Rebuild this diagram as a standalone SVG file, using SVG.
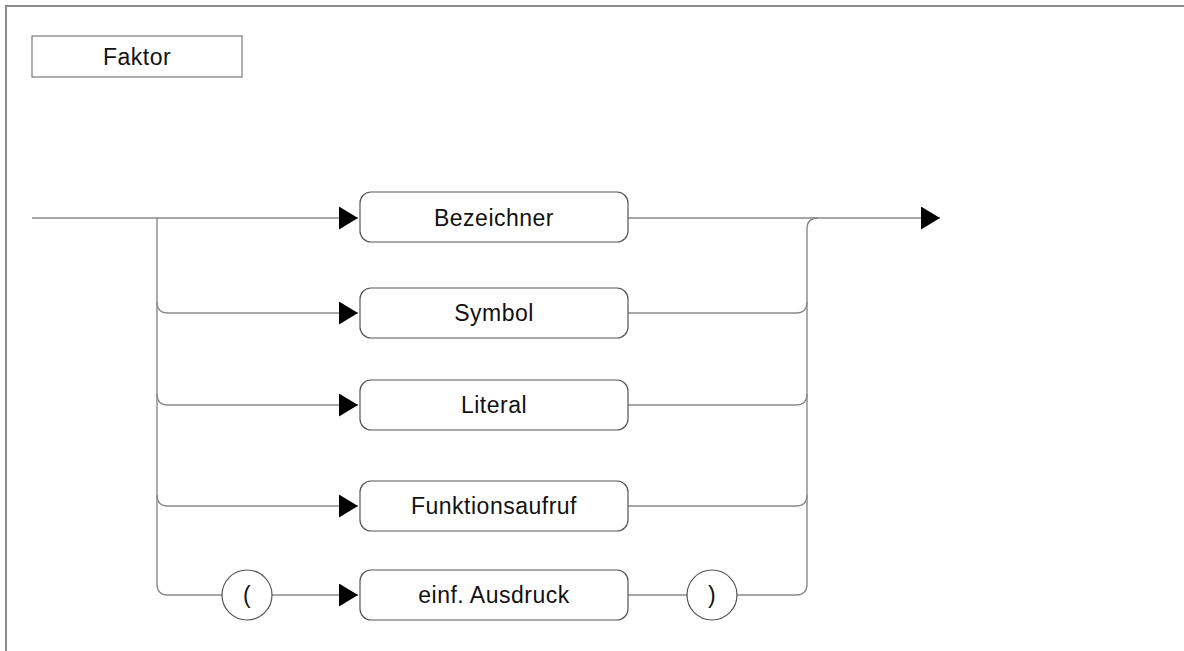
<svg xmlns="http://www.w3.org/2000/svg" width="1184" height="651" viewBox="0 0 1184 651">
  <style>
    .frame { fill: none; stroke: #8c8c8c; stroke-width: 2; }
    .title { fill: #ffffff; stroke: #7a7a7a; stroke-width: 1.2; }
    .box { fill: #ffffff; stroke: #555555; stroke-width: 1.2; }
    .term { fill: #ffffff; stroke: #555555; stroke-width: 1.2; }
    .wire { fill: none; stroke: #8a8a8a; stroke-width: 1.4; }
    .lbl { font-family: "Liberation Sans", Arial, sans-serif; font-size: 23px; letter-spacing: 0.5px; fill: #111111; text-anchor: middle; dominant-baseline: central; }
  </style>
  <defs>
    <marker id="arrow" viewBox="0 0 19 23" refX="19" refY="11.5" markerWidth="19" markerHeight="23" markerUnits="userSpaceOnUse" orient="auto">
      <path d="M0,0 L19,11.5 L0,23 Z" fill="#000000"/>
    </marker>
  </defs>

  <rect width="1184" height="651" fill="#ffffff"/>
  <path class="frame" d="M6,651 L6,6 L1184,6"/>

  <g id="title">
    <rect class="title" x="32" y="36" width="210" height="41"/>
    <text class="lbl" x="137" y="57">Faktor</text>
  </g>

  <g id="connectors">
    <!-- entry and main track -->
    <path class="wire" d="M32,218 L358,218" marker-end="url(#arrow)"/>
    <path class="wire" d="M628,218 L940,218" marker-end="url(#arrow)"/>
    <!-- left split -->
    <path class="wire" d="M157,218 L157,584 Q157,595 168,595 L222,595"/>
    <path class="wire" d="M157,302 Q157,313 168,313 L358,313" marker-end="url(#arrow)"/>
    <path class="wire" d="M157,394 Q157,405 168,405 L358,405" marker-end="url(#arrow)"/>
    <path class="wire" d="M157,495 Q157,506 168,506 L358,506" marker-end="url(#arrow)"/>
    <path class="wire" d="M272,595 L358,595" marker-end="url(#arrow)"/>
    <!-- right merge -->
    <path class="wire" d="M818,218 Q807,218 807,229 L807,584 Q807,595 796,595 L737,595"/>
    <path class="wire" d="M628,313 L796,313 Q807,313 807,302"/>
    <path class="wire" d="M628,405 L796,405 Q807,405 807,394"/>
    <path class="wire" d="M628,506 L796,506 Q807,506 807,495"/>
    <path class="wire" d="M628,595 L687,595"/>
  </g>

  <g id="bezeichner">
    <rect class="box" x="360" y="192" width="268" height="50" rx="11"/>
    <text class="lbl" x="494" y="218">Bezeichner</text>
  </g>
  <g id="symbol">
    <rect class="box" x="360" y="288" width="268" height="50" rx="11"/>
    <text class="lbl" x="494" y="313">Symbol</text>
  </g>
  <g id="literal">
    <rect class="box" x="360" y="380" width="268" height="50" rx="11"/>
    <text class="lbl" x="494" y="405">Literal</text>
  </g>
  <g id="funktionsaufruf">
    <rect class="box" x="360" y="481" width="268" height="50" rx="11"/>
    <text class="lbl" x="494" y="506">Funktionsaufruf</text>
  </g>
  <g id="einf-ausdruck">
    <rect class="box" x="360" y="570" width="268" height="50" rx="11"/>
    <text class="lbl" x="494" y="595">einf. Ausdruck</text>
  </g>
  <g id="paren-open">
    <circle class="term" cx="247" cy="595" r="25"/>
    <text class="lbl" x="247" y="595">(</text>
  </g>
  <g id="paren-close">
    <circle class="term" cx="712" cy="595" r="25"/>
    <text class="lbl" x="712" y="595">)</text>
  </g>
</svg>
